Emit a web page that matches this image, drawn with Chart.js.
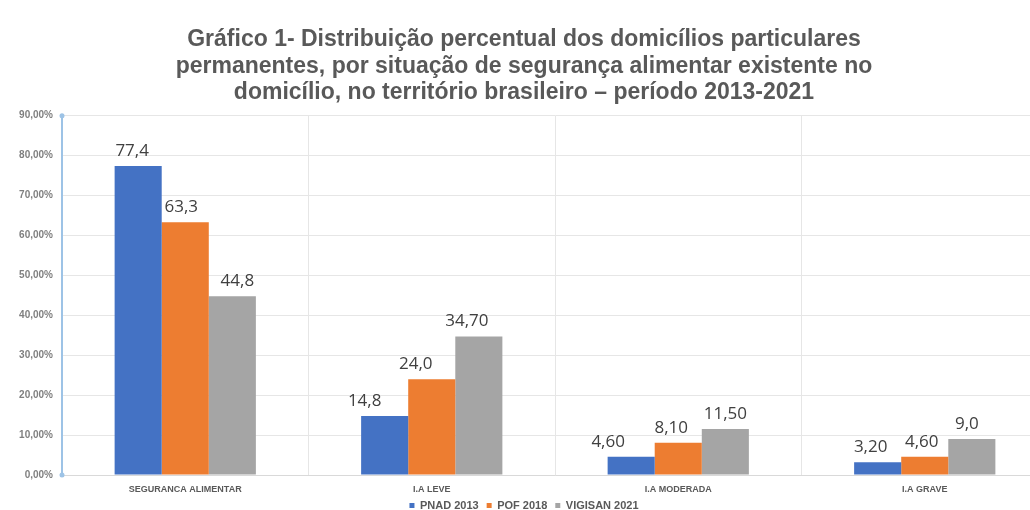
<!DOCTYPE html>
<html>
<head>
<meta charset="utf-8">
<script src="https://cdn.jsdelivr.net/npm/chart.js@4/dist/chart.umd.min.js"></script>
<style>
html,body{margin:0;padding:0;background:#fff;overflow:hidden;width:1030px;height:510px;}
#wrap{position:absolute;left:0;top:0;width:1060px;height:521px;}
</style>
</head>
<body>
<div id="wrap"><canvas id="c" width="1060" height="521"></canvas></div>
<script>
const categories = ["SEGURANÇA ALIMENTAR", "I.A LEVE", "I.A MODERADA", "I.A GRAVE"];
const seriesNames = ["PNAD 2013", "POF 2018", "VIGISAN 2021"];
const pnad2013 = [77.4, 14.8, 4.6, 3.2];
const pof2018 = [63.3, 24.0, 8.1, 4.6];
const vigisan2021 = [44.8, 34.7, 11.5, 9.0];
const pnadLabels = ["77,4", "14,8", "4,60", "3,20"];
const pofLabels = ["63,3", "24,0", "8,10", "4,60"];
const vigisanLabels = ["44,8", "34,70", "11,50", "9,0"];
const titleLines = [
  "Gráfico 1- Distribuição percentual dos domicílios particulares",
  "permanentes, por situação de segurança alimentar existente no",
  "domicílio, no território brasileiro – período 2013-2021"
];

// styling (not data): colours and small manual label nudges (px) as in the original
const colors = ["#4472C4", "#ED7D31", "#A5A5A5"];
const labelNudgeX = [[-6, -20, -23, -7], [-4, -16, -7, -3], [5, -12, 0, -5]];
const labelSets = [pnadLabels, pofLabels, vigisanLabels];

const dataLabelPlugin = {
  id: 'dataLabels',
  afterDatasetsDraw(chart) {
    const ctx = chart.ctx;
    ctx.save();
    ctx.font = '17px "Open Sans", "Lato", sans-serif';
    ctx.fillStyle = '#404040';
    ctx.textAlign = 'center';
    ctx.textBaseline = 'alphabetic';
    chart.data.datasets.forEach((ds, i) => {
      const meta = chart.getDatasetMeta(i);
      meta.data.forEach((bar, j) => {
        ctx.fillText(labelSets[i][j], bar.x + labelNudgeX[i][j], bar.y - 10);
      });
    });
    ctx.restore();
  }
};

const axisDotsPlugin = {
  id: 'axisDots',
  afterDraw(chart) {
    const ctx = chart.ctx;
    const a = chart.chartArea;
    ctx.save();
    ctx.fillStyle = '#9DC3E6';
    [a.top, a.bottom].forEach(y => {
      ctx.beginPath();
      ctx.arc(a.left, y, 2.5, 0, Math.PI * 2);
      ctx.fill();
    });
    ctx.restore();
  }
};

new Chart(document.getElementById('c'), {
  type: 'bar',
  data: {
    labels: categories,
    datasets: [
      { label: seriesNames[0], data: pnad2013, backgroundColor: colors[0] },
      { label: seriesNames[1], data: pof2018, backgroundColor: colors[1] },
      { label: seriesNames[2], data: vigisan2021, backgroundColor: colors[2] }
    ]
  },
  options: {
    responsive: false,
    animation: false,
    devicePixelRatio: 1,
    layout: { padding: { left: 0, right: 12, top: 0, bottom: 0 } },
    datasets: { bar: { categoryPercentage: 0.573, barPercentage: 1.0 } },
    plugins: {
      title: {
        display: true,
        text: titleLines,
        color: '#595959',
        font: { family: '"Liberation Sans", Arial, sans-serif', size: 23, weight: 'bold', lineHeight: 1.14 },
        padding: { top: 27, bottom: 10 }
      },
      legend: {
        position: 'bottom',
        labels: {
          color: '#595959',
          font: { family: '"Liberation Sans", Arial, sans-serif', size: 11, weight: 'bold' },
          boxWidth: 5, boxHeight: 5,
          usePointStyle: true, pointStyle: 'rect',
          padding: 8
        }
      },
      tooltip: { enabled: false }
    },
    scales: {
      x: {
        grid: { display: true, color: '#E6E6E6', drawTicks: false, offset: true },
        border: { display: true, color: '#D9D9D9' },
        ticks: {
          color: '#595959',
          font: { family: '"Liberation Sans", Arial, sans-serif', size: 9, weight: 'bold' },
          padding: 9,
          maxRotation: 0
        },
        afterFit: s => { s.height = 17; }
      },
      y: {
        min: 0, max: 90,
        ticks: {
          stepSize: 10,
          color: '#7F7F7F',
          font: { family: '"Liberation Sans", Arial, sans-serif', size: 10, weight: 'bold' },
          padding: 9,
          callback: v => v.toFixed(2).replace('.', ',') + '%'
        },
        grid: { color: '#E6E6E6', drawTicks: false },
        border: { display: true, color: '#9DC3E6', width: 2 },
        afterFit: s => { s.width = 62; }
      }
    }
  },
  plugins: [dataLabelPlugin, axisDotsPlugin]
});
</script>
</body>
</html>
